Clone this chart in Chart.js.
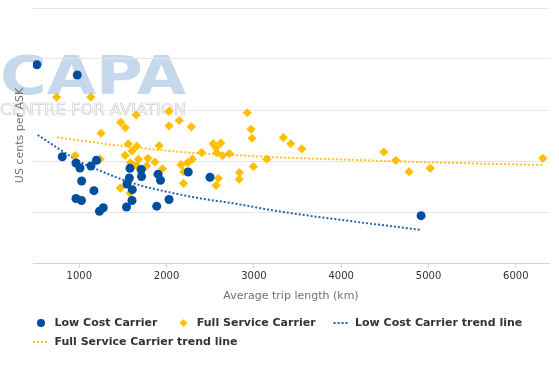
<!DOCTYPE html>
<html>
<head>
<meta charset="utf-8">
<script src="https://cdn.jsdelivr.net/npm/chart.js@4/dist/chart.umd.min.js"></script>
<style>
  html, body { margin: 0; padding: 0; background: #ffffff; }
  #wrap { width: 559px; height: 372px; }
</style>
</head>
<body>
<div id="wrap"><canvas id="c" width="559" height="372"></canvas></div>
<script>
// ---- Data ----
const lccTripKm = [515, 977, 805, 962, 1008, 1134, 1197, 1027, 1168, 962, 1025, 1231, 1275,
  1581, 1710, 1713, 1573, 1546, 1607, 1604, 1541, 1902, 1930, 1887, 2028, 2248, 2497, 4915];
const lccCents = [19.44, 18.43, 10.42, 9.80, 9.31, 9.51, 10.07, 8.04, 7.09, 6.32, 6.13, 5.07, 5.42,
  9.28, 9.17, 8.48, 8.33, 7.75, 7.19, 6.13, 5.49, 8.71, 8.11, 5.57, 6.23, 8.92, 8.41, 4.64];

const fscTripKm = [741, 1132, 1474, 1527, 1652, 1249, 2028, 2028, 2145, 2283, 2924, 2967, 2979,
  953, 1239, 1561, 1658, 1604, 1526, 1915, 1587, 1678, 1658, 1703, 1785, 1772, 1867, 1953,
  1470, 1581, 2165, 2240, 2295, 2196, 2194, 2402, 2534, 2566, 2621, 2575, 2641, 2719,
  2592, 2568, 2835, 2833, 2994, 3147, 3337, 3422, 3549, 4488, 4625, 4777, 5020, 6309];
const fscCents = [16.27, 16.27, 13.80, 13.26, 14.51, 12.72, 14.88, 13.45, 13.97, 13.35, 14.73, 13.11, 12.23,
  10.54, 10.18, 11.67, 11.45, 10.98, 10.56, 11.50, 9.82, 10.18, 9.56, 9.05, 10.26, 9.53, 9.90, 9.24,
  7.35, 6.84, 9.64, 9.82, 10.18, 8.95, 7.81, 10.83, 11.70, 11.30, 11.76, 10.81, 10.52, 10.72,
  8.30, 7.60, 8.87, 8.21, 9.46, 10.18, 12.30, 11.70, 11.18, 10.88, 10.07, 8.95, 9.28, 10.26];

const lccTrendKm = [523, 1008, 1237, 1619, 2001, 2383, 2764, 3262, 3949, 4923];
const lccTrendCents = [12.55, 9.93, 9.05, 7.81, 6.99, 6.34, 5.85, 5.10, 4.28, 3.23];

const fscTrendKm = [748, 1237, 1619, 2001, 2383, 2764, 3262, 3949, 4625, 5476, 6309];
const fscTrendCents = [12.32, 11.74, 11.34, 11.01, 10.75, 10.59, 10.36, 10.17, 9.97, 9.77, 9.61];

const xTickValues = [1000, 2000, 3000, 4000, 5000, 6000];
const seriesNames = ['Low Cost Carrier', 'Full Service Carrier', 'Low Cost Carrier trend line', 'Full Service Carrier trend line'];
const xTitle = 'Average trip length (km)';
const yTitle = 'US cents per ASK';

// ---- Styles ----
const LCC_COLOR = '#004f9f';
const FSC_COLOR = '#ffbf00';
const LCC_TREND = '#2563ad';
const FSC_TREND = '#ffc21a';
const FONT = '"DejaVu Sans", sans-serif';

function pts(xs, ys) { return xs.map((x, i) => ({ x: x, y: ys[i] })); }

function legendIcon(kind, color) {
  const cv = document.createElement('canvas');
  cv.width = 26; cv.height = 12;
  const g = cv.getContext('2d');
  g.fillStyle = color; g.strokeStyle = color;
  if (kind === 'circle') {
    g.beginPath(); g.arc(18, 6, 4, 0, Math.PI * 2); g.fill();
  } else if (kind === 'diamond') {
    g.beginPath(); g.moveTo(18, 2); g.lineTo(22, 6); g.lineTo(18, 10); g.lineTo(14, 6); g.closePath(); g.fill();
  } else {
    g.lineWidth = 2; g.setLineDash([2, 2]);
    g.beginPath(); g.moveTo(10, 6); g.lineTo(26, 6); g.stroke();
  }
  return cv;
}
const icons = [legendIcon('circle', LCC_COLOR), legendIcon('diamond', FSC_COLOR),
  legendIcon('line', LCC_TREND), legendIcon('line', FSC_TREND)];

const watermark = {
  id: 'watermark',
  beforeDraw(chart) {
    const ctx = chart.ctx;
    ctx.save();
    ctx.font = 'bold 53px ' + FONT;
    ctx.textBaseline = 'alphabetic';
    let w = ctx.measureText('CAPA').width;
    ctx.translate(0, 94);
    ctx.scale(186 / w, 1);
    ctx.fillStyle = '#c6d9ec';
    ctx.fillText('CAPA', 0, 0);
    ctx.restore();
    ctx.save();
    ctx.font = '15px ' + FONT;
    w = ctx.measureText('CENTRE FOR AVIATION').width;
    ctx.translate(0, 111);
    ctx.scale(186 / w, 1);
    ctx.strokeStyle = '#cacaca';
    ctx.lineWidth = 0.6;
    ctx.strokeText('CENTRE FOR AVIATION', 0, 0);
    ctx.restore();
  }
};

new Chart(document.getElementById('c'), {
  type: 'scatter',
  data: {
    datasets: [
      { label: seriesNames[0], data: pts(lccTripKm, lccCents), backgroundColor: LCC_COLOR, borderColor: LCC_COLOR,
        pointStyle: 'circle', pointRadius: 4.5, pointBorderWidth: 0 },
      { label: seriesNames[1], data: pts(fscTripKm, fscCents), backgroundColor: FSC_COLOR, borderColor: FSC_COLOR,
        pointStyle: 'rectRot', pointRadius: 4.6, pointBorderWidth: 0 },
      { label: seriesNames[2], data: pts(lccTrendKm, lccTrendCents), showLine: true, borderColor: LCC_TREND,
        borderWidth: 2, borderDash: [2, 2], pointRadius: 0, tension: 0.4, cubicInterpolationMode: 'monotone' },
      { label: seriesNames[3], data: pts(fscTrendKm, fscTrendCents), showLine: true, borderColor: FSC_TREND,
        borderWidth: 2, borderDash: [2, 2], pointRadius: 0, tension: 0.4, cubicInterpolationMode: 'monotone' }
    ]
  },
  options: {
    responsive: false,
    animation: false,
    layout: { padding: { left: 15, right: 10, top: 8, bottom: 14.5 } },
    plugins: {
      tooltip: { enabled: false },
      legend: {
        position: 'bottom',
        align: 'start',
        labels: {
          usePointStyle: true,
          pointStyleWidth: 26,
          padding: 8,
          color: '#333333',
          font: { family: FONT, size: 11, weight: 'bold' },
          generateLabels(chart) {
            return chart.data.datasets.map((ds, i) => ({
              text: ds.label, datasetIndex: i, pointStyle: icons[i],
              fillStyle: 'transparent', strokeStyle: 'transparent', lineWidth: 0, hidden: false, fontColor: '#333333'
            }));
          }
        }
      }
    },
    scales: {
      x: {
        type: 'linear',
        min: 470, max: 6380,
        afterBuildTicks(scale) { scale.ticks = xTickValues.map(v => ({ value: v })); },
        afterFit(scale) { scale.height = 46.5; },
        grid: { drawOnChartArea: false, drawTicks: true, tickLength: 5, color: '#ccd6eb', lineWidth: 1 },
        border: { display: true, color: '#ccd6eb', width: 1 },
        ticks: { color: '#333333', padding: 2, maxRotation: 0, font: { family: FONT, size: 10 },
          callback: (v) => String(v) },
        title: { display: true, text: xTitle, color: '#707070', padding: { top: 0, bottom: 7 },
          font: { family: FONT, size: 11 } }
      },
      y: {
        type: 'linear',
        min: 0, max: 25,
        afterFit(scale) { scale.width = 18; },
        ticks: { display: false, stepSize: 5 },
        grid: { drawTicks: false, color: (c) => c.tick && c.tick.value === 0 ? 'rgba(0,0,0,0)' : '#e6e6e6', lineWidth: 1 },
        border: { display: false },
        title: { display: true, text: yTitle, color: '#707070', padding: { top: 0, bottom: 0 },
          font: { family: FONT, size: 11, lineHeight: 1 } }
      }
    }
  },
  plugins: [watermark]
});
</script>
</body>
</html>
